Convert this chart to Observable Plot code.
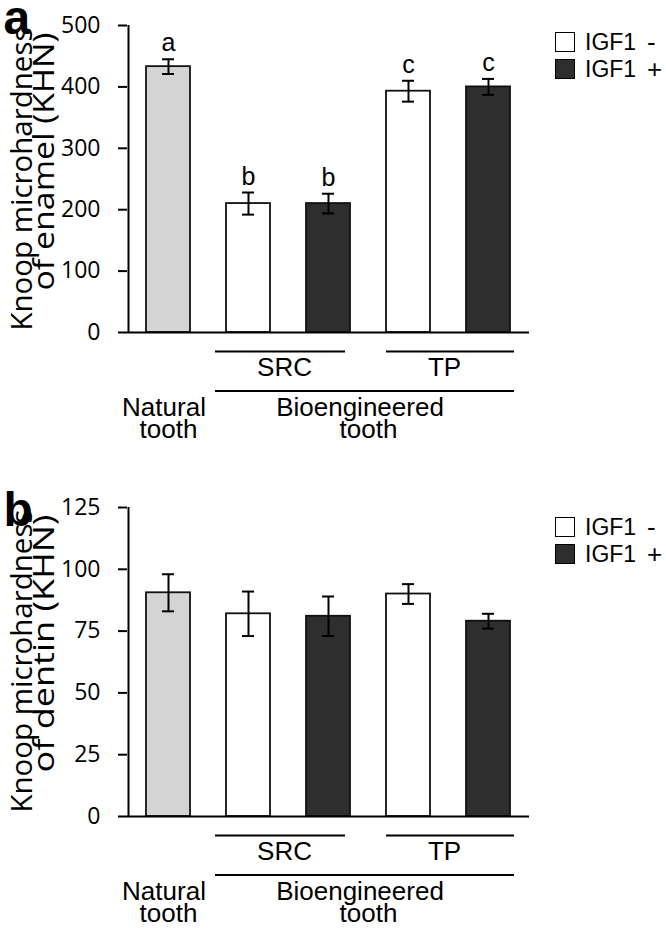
<!DOCTYPE html>
<html>
<head>
<meta charset="utf-8">
<script src="https://cdn.jsdelivr.net/npm/d3@7"></script>
<script src="https://cdn.jsdelivr.net/npm/@observablehq/plot@0.6"></script>
<style>
  body { margin: 0; background: #fff; }
  #wrap { position: relative; width: 666px; height: 929px; overflow: hidden; }
  #wrap svg { display: block; }
  .legend { position: absolute; left: 555px; font-family: "Liberation Sans", Arial, sans-serif; font-size: 23px; color: #000; }
  .item { position: absolute; left: 0; width: 110px; height: 20px; }
  .sw { position: absolute; left: 0; top: 0; width: 18px; height: 18px; border: 1px solid #000; }
  .lab { position: absolute; left: 30px; top: -3px; line-height: 26px; }
  .sign { position: absolute; left: 92px; top: -3px; line-height: 26px; font-size: 26px; }
</style>
</head>
<body>
<div id="wrap"></div>
<script>
// ---- data ----
const categories = ["Natural", "SRC-", "SRC+", "TP-", "TP+"];
const treatment = ["natural", "IGF1 -", "IGF1 +", "IGF1 -", "IGF1 +"];
const enamelMean = [433, 210, 210, 393, 400];
const enamelSE = [12, 18, 16, 17, 13];
const enamelLetters = ["a", "b", "b", "c", "c"];
const enamelTicks = [0, 100, 200, 300, 400, 500];
const dentinMean = [90.5, 82, 81, 90, 79];
const dentinSE = [7.5, 9, 8, 4, 3];
const dentinTicks = [0, 25, 50, 75, 100, 125];
const groupNames = ["SRC", "TP"];
const groupFrom = ["SRC-", "TP-"];
const groupTo = ["SRC+", "TP+"];
const legendKeys = ["IGF1 -", "IGF1 +"];
const legendLabels = ["IGF1", "IGF1"];
const legendSigns = ["-", "+"];
const enamelTitle = ["Knoop microhardness", "of enamel (KHN)"];
const dentinTitle = ["Knoop microhardness", "of dentin (KHN)"];

// ---- styles ----
const palette = {"natural": "#d4d4d4", "IGF1 -": "#ffffff", "IGF1 +": "#2e2e2e"};
const LAB = "'Liberation Sans', Arial, sans-serif";
const TICKFONT = "'Open Sans', sans-serif";
const titleLengths = [303, 258];

function panel({mean, se, letters, ticks, title, tag, height, marginTop, marginBottom, tagDy}) {
  const data = categories.map((c, i) => ({cat: c, kind: treatment[i], m: mean[i], e: se[i], letter: letters ? letters[i] : ""}));
  const groups = groupNames.map((g, i) => ({name: g, from: groupFrom[i], to: groupTo[i]}));
  const top = ticks[ticks.length - 1];
  const marks = [
    Plot.barY(data, {x: "cat", y: "m", fill: "kind", stroke: "#111", strokeWidth: 1.8}),
    Plot.ruleY([0], {strokeWidth: 2}),
    // y axis line at the left edge of the first band's outer padding
    Plot.ruleX([top], {x: () => categories[0], y1: 0, y2: top, dx: -40, strokeWidth: 2}),
    Plot.axisY({ticks, tickSize: 9, tickPadding: 18, label: null, strokeWidth: 2, fontSize: 23, fontFamily: TICKFONT}),
    Plot.ruleX(data, {x: "cat", y1: d => d.m - d.e, y2: d => d.m + d.e, strokeWidth: 2}),
    Plot.tickY(data, {x: "cat", y: d => d.m + d.e, insetLeft: 16, insetRight: 16, strokeWidth: 2}),
    Plot.tickY(data, {x: "cat", y: d => d.m - d.e, insetLeft: 16, insetRight: 16, strokeWidth: 2}),
    // group brackets under axis
    Plot.ruleY([groups[0]], {x1: "from", x2: "to", y: 0, dy: 19, strokeWidth: 2, insetLeft: -11, insetRight: 5}),
    Plot.ruleY([groups[1]], {x1: "from", x2: "to", y: 0, dy: 19, strokeWidth: 2, insetLeft: 0, insetRight: -4}),
    Plot.ruleY([{from: groupFrom[0], to: groupTo[1]}], {x1: "from", x2: "to", y: 0, dy: 58.5, strokeWidth: 2, insetLeft: -11, insetRight: -4}),
    Plot.text(groups, {x: "from", y: 0, text: "name", dx: 36, dy: 43.5, lineAnchor: "bottom", fontSize: 26, fontFamily: LAB}),
    Plot.text(["Natural"], {x: () => categories[0], y: 0, text: d => d, dx: -4.5, dy: 83.5, lineAnchor: "bottom", fontSize: 26, fontFamily: LAB}),
    Plot.text(["tooth"], {x: () => categories[0], y: 0, text: d => d, dx: 0, dy: 105.5, lineAnchor: "bottom", fontSize: 26, fontFamily: LAB}),
    Plot.text(["Bioengineered"], {x: () => categories[2], y: 0, text: d => d, dx: 31.5, dy: 83.5, lineAnchor: "bottom", fontSize: 26, fontFamily: LAB}),
    Plot.text(["tooth"], {x: () => categories[2], y: 0, text: d => d, dx: 40, dy: 105.5, lineAnchor: "bottom", fontSize: 26, fontFamily: LAB}),
    // y title (two lines, anchored at the top)
    Plot.text([title[0]], {frameAnchor: "top-left", text: d => d, rotate: -90, textAnchor: "end", lineAnchor: "bottom", dx: 31 - 127, dy: 2, fontSize: 29, fontFamily: TICKFONT}),
    Plot.text([title[1]], {frameAnchor: "top-left", text: d => d, rotate: -90, textAnchor: "end", lineAnchor: "bottom", dx: 53 - 127, dy: 7, fontSize: 30, fontFamily: TICKFONT}),
    // panel tag
    Plot.text([tag], {frameAnchor: "top-left", text: d => d, textAnchor: "start", lineAnchor: "bottom", dx: 3 - 127, dy: tagDy, fontSize: 48, fontWeight: "bold", fontFamily: LAB})
  ];
  if (letters) {
    marks.push(Plot.text(data, {x: "cat", y: d => d.m + d.e, text: "letter", dy: -8, lineAnchor: "bottom", fontSize: 25, fontFamily: LAB}));
  }
  const svg = Plot.plot({
    width: 666,
    height,
    marginLeft: 127,
    marginRight: 137,
    marginTop,
    marginBottom,
    style: {background: "transparent", overflow: "visible", fontFamily: LAB, color: "#000"},
    x: {domain: categories, paddingInner: 0.453, paddingOuter: 0.224, axis: null},
    y: {domain: [0, top]},
    color: {domain: Object.keys(palette), range: Object.values(palette)},
    marks
  });
  // stretch the two title lines to the reference lengths
  d3.select(svg).selectAll("text").each(function () {
    const k = title.indexOf(this.textContent);
    if (k >= 0) { this.setAttribute("textLength", titleLengths[k]); this.setAttribute("lengthAdjust", "spacingAndGlyphs"); }
  });
  return svg;
}

const wrap = document.getElementById("wrap");
wrap.appendChild(panel({mean: enamelMean, se: enamelSE, letters: enamelLetters, ticks: enamelTicks, title: enamelTitle, tag: "a", height: 483, marginTop: 25, marginBottom: 151, tagDy: 8}));
wrap.appendChild(panel({mean: dentinMean, se: dentinSE, letters: null, ticks: dentinTicks, title: dentinTitle, tag: "b", height: 446, marginTop: 24, marginBottom: 113, tagDy: 18}));

function legend(top) {
  const div = document.createElement("div");
  div.className = "legend";
  div.style.top = top + "px";
  legendKeys.forEach((k, i) => {
    const item = document.createElement("div");
    item.className = "item";
    item.style.top = (i * 27) + "px";
    const sw = document.createElement("div");
    sw.className = "sw";
    sw.style.background = palette[k];
    const lab = document.createElement("div");
    lab.className = "lab";
    lab.textContent = legendLabels[i];
    const sg = document.createElement("div");
    sg.className = "sign";
    sg.textContent = legendSigns[i];
    item.append(sw, lab, sg);
    div.appendChild(item);
  });
  wrap.appendChild(div);
}
legend(32);
legend(517);
</script>
</body>
</html>
